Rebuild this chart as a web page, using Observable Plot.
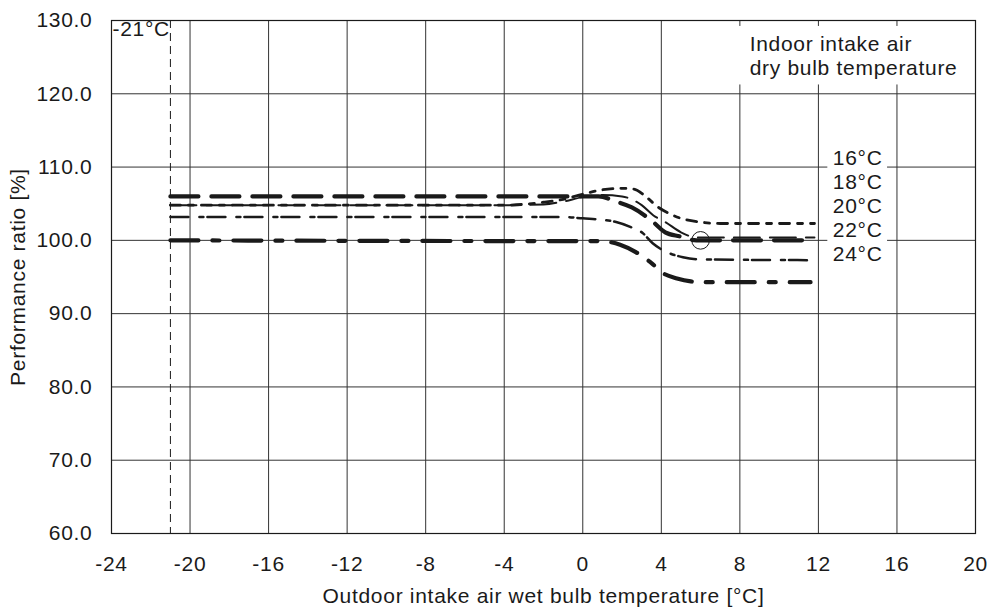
<!DOCTYPE html>
<html><head><meta charset="utf-8">
<script src="https://cdn.jsdelivr.net/npm/d3@7"></script>
<script src="https://cdn.jsdelivr.net/npm/@observablehq/plot@0.6"></script>
<style>
body{margin:0;background:#fff;}
svg{font-family:"Liberation Sans",Arial,Helvetica,sans-serif;}
</style></head><body><div id="chart"></div>
<script>
// ---- data ----
const xTicks = [-24, -20, -16, -12, -8, -4, 0, 4, 8, 12, 16, 20];
const yTicks = [60, 70, 80, 90, 100, 110, 120, 130];
const seriesNames = ["16°C", "18°C", "20°C", "22°C", "24°C"];

const x16 = [-21, -4, -2, -1, 0, 1, 2, 2.6, 3.2, 3.8, 4.3, 5, 6, 7, 11.8];
const y16 = [104.8, 104.8, 105.2, 105.6, 106.3, 106.9, 107.1, 107.0, 106.0, 104.6, 103.8, 103.0, 102.5, 102.3, 102.3];

const x18 = [-21, -4, -2, -1, 0, 1, 2, 3, 3.6, 4.2, 5, 5.8, 11.8];
const y18 = [104.8, 104.8, 104.9, 105.3, 105.9, 106.2, 106.0, 104.8, 103.4, 102.5, 101.1, 100.4, 100.4];

const x20 = [-21, 0, 0.8, 1.7, 2.5, 3.5, 4.2, 5, 5.5, 6, 11.6];
const y20 = [106.0, 106.0, 106.0, 105.3, 104.5, 102.7, 101.1, 100.5, 100.1, 100.0, 100.0];

const x22 = [-21, -1, 0, 1, 1.7, 2.45, 3.05, 3.56, 4.12, 5.1, 6, 11.6];
const y22 = [103.2, 103.2, 103.0, 102.8, 102.5, 101.8, 101.0, 99.6, 98.6, 97.7, 97.4, 97.3];

const x24 = [-21, 0, 0.9, 1.9, 2.7, 3.5, 4.1, 4.8, 5.5, 6.1, 11.6];
const y24 = [100.0, 99.9, 99.9, 99.4, 98.4, 96.9, 95.5, 94.8, 94.4, 94.3, 94.3];

const seriesX = [x16, x18, x20, x22, x24];
const seriesY = [y16, y18, y20, y22, y24];

const labelX = 14;
const labelY = [111.2, 107.9, 104.6, 101.4, 98.1];

const refX = [6];
const refY = [100];
const limitX = [-21];

const yTitle = "Performance ratio [%]";
const xTitle = "Outdoor intake air wet bulb temperature [°C]";
const noteText = "Indoor intake air\ndry bulb temperature";
const noteX = 8.5, noteY = 125.2;
const limitText = "-21°C";
const limitTextY = 128.8;

// ---- styles ----
const styles = {
  "16°C": {dash: "10,8,5,8", width: 2.8},
  "18°C": {dash: "26,10", width: 2},
  "20°C": {dash: "28,13", width: 4.2},
  "22°C": {dash: "18,11,4,4", width: 2.5},
  "24°C": {dash: "28,14,7,14", width: 4.2}
};
const ink = "#1a1a1a";
const FS = 21;

const rows = seriesNames.flatMap((s, i) => seriesX[i].map((x, j) => ({series: s, x, y: seriesY[i][j]})));

const lineMarks = seriesNames.map(s => Plot.line(rows.filter(r => r.series === s), {
  x: "x", y: "y", stroke: ink, strokeWidth: styles[s].width,
  strokeDasharray: styles[s].dash, curve: "monotone-x"
}));

const chart = Plot.plot({
  width: 995,
  height: 613,
  marginLeft: 111,
  marginRight: 20,
  marginTop: 20,
  marginBottom: 80,
  style: {fontSize: FS + "px", fontFamily: '"Liberation Sans", Arial, sans-serif', background: "#fff", color: ink, letterSpacing: "0.7px"},
  x: {domain: [-24, 20]},
  y: {domain: [60, 130]},
  marks: [
    Plot.gridX(xTicks, {stroke: "#333", strokeOpacity: 1, strokeWidth: 1}),
    Plot.gridY(yTicks, {stroke: "#333", strokeOpacity: 1, strokeWidth: 1}),
    Plot.ruleX(limitX, {stroke: ink, strokeWidth: 1, strokeDasharray: "8,5"}),
    ...lineMarks,
    Plot.dot(refX.map((x, i) => ({x, y: refY[i]})), {x: "x", y: "y", r: 8.8, stroke: ink, strokeWidth: 1, fill: "none"}),
    Plot.text(seriesNames, {x: () => labelX, y: (d, i) => labelY[i], text: d => d, fill: ink, textAnchor: "middle", fontSize: FS, className: "serieslabels"}),
    Plot.text([noteText], {x: () => noteX, y: () => noteY, text: d => d, fill: ink, textAnchor: "start", lineAnchor: "middle", lineHeight: 1.12, fontSize: FS, className: "notelabel"}),
    Plot.text([limitText], {x: () => -24, y: () => limitTextY, text: d => d, fill: ink, textAnchor: "start", dx: 1, fontSize: FS}),
    Plot.frame({stroke: ink, strokeWidth: 1.2}),
    Plot.axisX(xTicks, {tickSize: 0, tickPadding: 23, label: null, tickFormat: d => String(d), fontSize: FS}),
    Plot.axisY(yTicks, {tickSize: 0, tickPadding: 19, label: null, tickFormat: d => d.toFixed(1), fontSize: FS}),
    Plot.text([xTitle], {frameAnchor: "bottom", dy: 63, lineAnchor: "middle", textAnchor: "middle", text: d => d, fill: ink, fontSize: FS}),
    Plot.text([yTitle], {frameAnchor: "left", dx: -93, rotate: -90, textAnchor: "middle", lineAnchor: "middle", text: d => d, fill: ink, fontSize: FS})
  ]
});
document.getElementById("chart").appendChild(chart);

// white boxes behind the annotation texts (covering the grid like the original)
function boxBehind(cls, padL, padR, padT, padB, toRightEdge) {
  const g = chart.querySelector("g." + cls);
  if (!g) return;
  const bb = g.getBBox();
  const r = document.createElementNS("http://www.w3.org/2000/svg", "rect");
  const x0 = bb.x - padL;
  const x1 = toRightEdge ? (995 - 20 - 1) : bb.x + bb.width + padR;
  r.setAttribute("x", x0);
  r.setAttribute("y", bb.y - padT);
  r.setAttribute("width", x1 - x0);
  r.setAttribute("height", bb.height + padT + padB);
  r.setAttribute("fill", "#fff");
  g.parentNode.insertBefore(r, g);
}
boxBehind("serieslabels", 5, 5, 2, 2, false);
boxBehind("notelabel", 12, 0, 6, 6, true);
</script></body></html>
